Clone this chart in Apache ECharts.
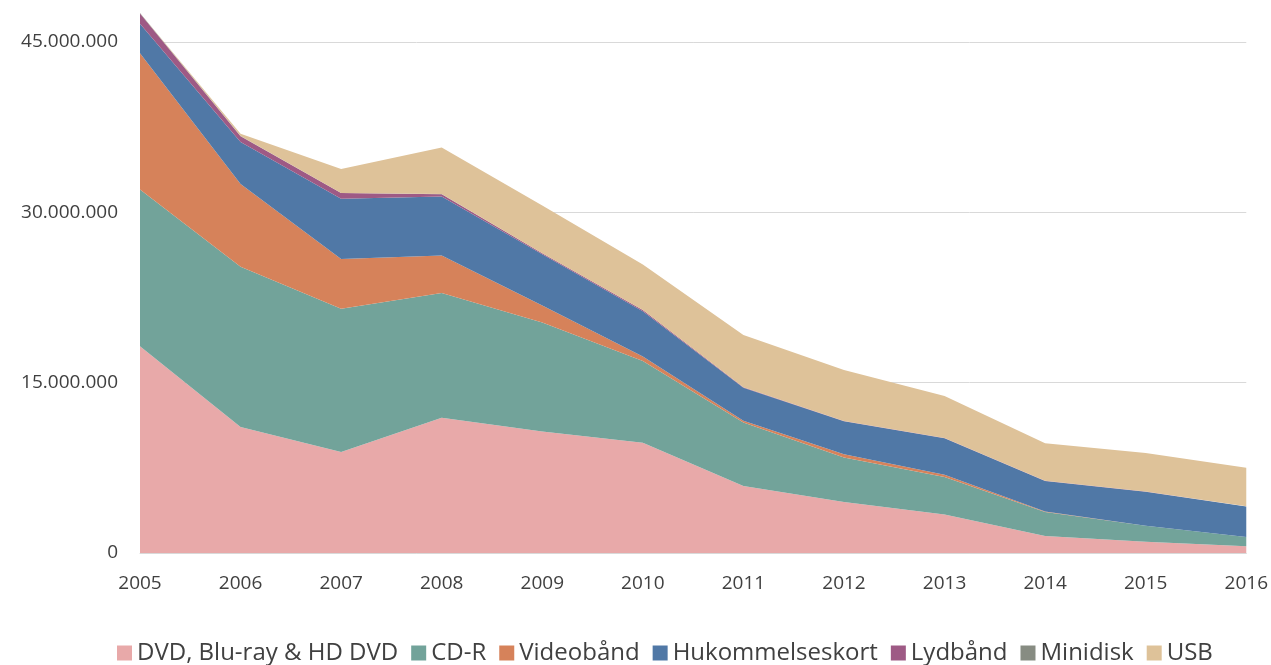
<!DOCTYPE html>
<html>
<head>
<meta charset="utf-8">
<script src="https://cdn.jsdelivr.net/npm/echarts@6/dist/echarts.min.js"></script>
<style>
  html, body { margin: 0; padding: 0; background: #fff; }
  #chart { width: 1271px; height: 665px; }
</style>
</head>
<body>
<div id="chart"></div>
<script>
// år og solgte medier (antall)
var years = ['2005', '2006', '2007', '2008', '2009', '2010', '2011', '2012', '2013', '2014', '2015', '2016'];
var dvd = [18200000, 11100000, 8900000, 11900000, 10700000, 9700000, 5900000, 4500000, 3400000, 1500000, 1000000, 600000];
var cdr = [13800000, 14100000, 12600000, 11000000, 9600000, 7200000, 5600000, 3900000, 3300000, 2100000, 1400000, 800000];
var video = [12000000, 7300000, 4400000, 3300000, 1500000, 400000, 150000, 300000, 200000, 50000, 0, 0];
var minne = [2600000, 3700000, 5300000, 5200000, 4500000, 4000000, 2900000, 2900000, 3200000, 2700000, 3000000, 2700000];
var lyd = [900000, 500000, 500000, 200000, 100000, 100000, 50000, 20000, 20000, 20000, 10000, 10000];
var minidisk = [50000, 20000, 10000, 5000, 0, 0, 0, 0, 0, 0, 0, 0];
var usb = [0, 200000, 2100000, 4100000, 4200000, 4000000, 4600000, 4500000, 3700000, 3300000, 3400000, 3400000];
var yTicks = [0, 15000000, 30000000, 45000000];

var names = ['DVD, Blu-ray & HD DVD', 'CD-R', 'Videobånd', 'Hukommelseskort', 'Lydbånd', 'Minidisk', 'USB'];
var colors = ['#E8A9A9', '#72A39A', '#D6825A', '#5078A6', '#9E5A85', '#878C82', '#DEC299'];
var data = [dvd, cdr, video, minne, lyd, minidisk, usb];

function fmt(v) {
  return String(v).replace(/\B(?=(\d{3})+(?!\d))/g, '.');
}

var chart = echarts.init(document.getElementById('chart'));

var series = names.map(function (n, i) {
  return {
    name: n,
    type: 'line',
    stack: 'total',
    data: data[i],
    symbol: 'none',
    clip: false,
    lineStyle: { width: 0 },
    areaStyle: { color: colors[i], opacity: 1 },
    itemStyle: { color: colors[i] }
  };
});

chart.setOption({
  animation: false,
  textStyle: { fontFamily: 'Open Sans' },
  grid: { left: 140, right: 24, top: 42, bottom: 112 },
  legend: {
    left: 112,
    top: 636,
    icon: 'rect',
    itemWidth: 15,
    itemHeight: 15,
    itemGap: 13,
    textStyle: { fontSize: 24, color: '#404040', fontFamily: 'Open Sans' },
    data: names
  },
  xAxis: {
    type: 'category',
    data: years,
    boundaryGap: false,
    axisLine: { lineStyle: { color: '#D9D9D9' } },
    axisTick: { show: false },
    axisLabel: { fontSize: 19, color: '#404040', margin: 21 }
  },
  yAxis: {
    type: 'value',
    min: yTicks[0],
    max: yTicks[yTicks.length - 1],
    interval: yTicks[1] - yTicks[0],
    axisLine: { show: false },
    axisTick: { show: false },
    splitLine: { lineStyle: { color: '#D9D9D9' } },
    axisLabel: { fontSize: 19, color: '#404040', margin: 22, padding: [8, 0, 0, 0], formatter: fmt }
  },
  series: series
});
</script>
</body>
</html>
